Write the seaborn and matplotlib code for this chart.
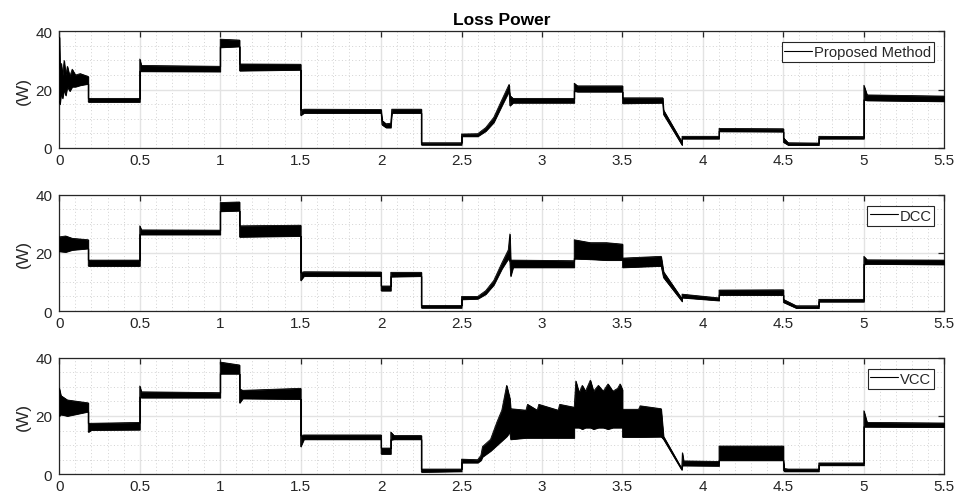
import numpy as np
import pandas as pd
import matplotlib
matplotlib.use("Agg")
import matplotlib.pyplot as plt
from matplotlib.lines import Line2D
from matplotlib.ticker import MultipleLocator
import seaborn as sns

sns.set_style("white")
plt.rcParams['font.family'] = ['Liberation Sans', 'DejaVu Sans']

title = "Loss Power"
ylabel = "(W)"
labels = ["Proposed Method", "DCC", "VCC"]
xticks = [0, 0.5, 1, 1.5, 2, 2.5, 3, 3.5, 4, 4.5, 5, 5.5]
yticks = [0, 20, 40]

# ---- Proposed Method: time knots, lower and upper envelope of the ripple (W)
t_pm = [0.000, 0.004, 0.012, 0.020, 0.030, 0.040, 0.050, 0.065, 0.080, 0.100, 0.130, 0.180,
        0.180, 0.500, 0.500, 0.510, 1.000,
        1.000, 1.120, 1.120, 1.500, 1.500, 1.520, 2.000, 2.005, 2.030, 2.060, 2.066, 2.250,
        2.250, 2.500, 2.500, 2.600, 2.650, 2.700, 2.750, 2.795, 2.800, 2.820, 3.200, 3.200,
        3.220, 3.500, 3.500, 3.750, 3.755, 3.870, 3.870, 4.100, 4.100, 4.500, 4.500, 4.530,
        4.720, 4.720, 5.000, 5.000, 5.020, 5.500]
lo_pm = [16.0, 15.0, 19.0, 17.0, 20.0, 18.0, 21.0, 19.5, 21.0, 21.0, 21.5, 22.0,
         15.8, 15.8, 26.3, 26.3, 26.2,
         34.5, 34.8, 26.5, 26.8, 11.2, 12.0, 12.0, 8.0, 7.0, 7.0, 12.0, 12.0,
         1.1, 1.1, 4.0, 4.0, 5.8, 8.8, 14.5, 19.5, 14.5, 15.5, 15.5, 19.5,
         19.3, 19.3, 15.3, 15.5, 11.5, 1.0, 3.2, 3.2, 5.7, 5.6, 2.0, 1.0,
         1.0, 3.2, 3.2, 16.5, 16.3, 16.0]
hi_pm = [38.0, 27.0, 29.0, 25.0, 30.0, 25.0, 28.0, 24.5, 27.0, 25.0, 25.5, 24.5,
         17.0, 17.0, 30.5, 28.3, 28.0,
         37.3, 37.0, 28.8, 28.7, 13.0, 13.3, 13.2, 9.5, 8.3, 8.5, 13.3, 13.3,
         1.8, 1.8, 4.8, 4.9, 7.0, 10.5, 16.5, 21.8, 18.0, 17.0, 17.0, 22.2,
         21.3, 21.3, 17.2, 17.2, 13.0, 2.0, 4.0, 4.0, 6.7, 6.6, 3.5, 1.8,
         1.7, 4.0, 3.9, 21.5, 18.2, 17.8]

# ---- DCC
t_dcc = [0.000, 0.040, 0.080, 0.180, 0.180, 0.500, 0.500, 0.510, 1.000, 1.000, 1.120, 1.120,
         1.500, 1.500, 1.520, 2.000, 2.000, 2.060, 2.060, 2.250, 2.250, 2.500, 2.500, 2.600,
         2.650, 2.700, 2.750, 2.790, 2.800, 2.805, 2.820, 3.200, 3.200, 3.300, 3.400, 3.500,
         3.500, 3.740, 3.755, 3.870, 3.870, 4.100, 4.100, 4.500, 4.500, 4.580, 4.720, 4.720,
         5.000, 5.000, 5.020, 5.500]
lo_dcc = [20.5, 20.3, 21.0, 21.5, 15.5, 15.5, 26.3, 26.3, 26.3, 34.3, 34.5, 25.5,
          25.8, 10.5, 12.0, 12.0, 7.0, 7.0, 11.8, 12.0, 1.1, 1.1, 4.0, 4.2,
          5.8, 9.0, 14.5, 18.0, 17.0, 12.0, 15.0, 15.0, 18.0, 17.8, 17.5, 17.5,
          15.0, 15.5, 11.5, 3.3, 4.6, 3.6, 5.5, 5.5, 3.0, 1.0, 1.0, 3.2,
          3.2, 16.0, 16.2, 16.0]
hi_dcc = [25.5, 25.8, 25.0, 24.5, 17.5, 17.5, 29.3, 27.9, 27.8, 37.3, 37.5, 29.3,
          29.5, 13.2, 13.5, 13.4, 8.6, 8.6, 13.3, 13.3, 1.9, 1.9, 5.0, 5.0,
          7.0, 10.5, 16.5, 21.0, 26.5, 17.5, 17.5, 17.3, 24.5, 23.5, 23.5, 23.0,
          18.2, 18.8, 13.5, 4.2, 5.8, 4.5, 7.2, 7.3, 4.0, 1.8, 1.8, 4.0,
          4.0, 18.8, 17.6, 17.5]

# ---- VCC
t_vcc = [0.000, 0.010, 0.050, 0.180, 0.180, 0.200, 0.500, 0.500, 0.510, 1.000, 1.000, 1.120,
         1.120, 1.140, 1.500, 1.500, 1.520, 2.000, 2.000, 2.060, 2.060, 2.080, 2.250, 2.250,
         2.500, 2.500, 2.600, 2.620, 2.630, 2.680, 2.720, 2.750, 2.780, 2.800, 2.805, 2.900,
         2.910, 2.970, 2.980, 3.100, 3.110, 3.200, 3.200, 3.210, 3.230, 3.250, 3.270, 3.300,
         3.320, 3.350, 3.380, 3.410, 3.440, 3.470, 3.485, 3.500, 3.500, 3.600, 3.610, 3.740,
         3.755, 3.868, 3.872, 3.880, 4.100, 4.100, 4.500, 4.500, 4.505, 4.530, 4.720, 4.720,
         5.000, 5.000, 5.020, 5.500]
lo_vcc = [20.0, 20.5, 20.0, 21.5, 14.5, 15.2, 15.3, 26.5, 26.3, 26.3, 34.5, 34.5,
          24.5, 26.0, 25.8, 9.5, 12.0, 12.0, 7.0, 7.0, 11.8, 12.0, 12.0, 0.8,
          1.0, 4.0, 4.0, 4.8, 6.0, 8.0, 10.0, 11.5, 13.0, 14.5, 12.0, 12.5,
          12.5, 12.5, 12.5, 12.5, 12.5, 12.5, 16.0, 16.0, 16.0, 15.5, 16.0, 16.0,
          15.5, 16.0, 16.0, 15.5, 16.0, 16.0, 16.0, 16.0, 12.8, 12.8, 12.8, 12.9,
          12.0, 1.5, 3.0, 3.0, 2.9, 4.8, 4.8, 1.5, 1.0, 1.0, 1.0, 3.1,
          3.1, 16.3, 16.3, 16.2]
hi_vcc = [29.5, 27.0, 25.5, 24.5, 17.5, 17.5, 17.8, 30.3, 28.3, 28.0, 38.5, 37.5,
          29.3, 28.8, 29.5, 13.3, 13.5, 13.5, 9.0, 9.0, 14.5, 13.3, 13.3, 1.8,
          1.8, 5.2, 5.0, 6.5, 9.5, 12.0, 18.0, 22.0, 30.5, 26.0, 22.5, 22.0,
          24.0, 22.0, 24.0, 22.0, 24.0, 23.0, 23.0, 32.0, 28.0, 30.5, 28.5, 32.3,
          28.5, 30.5, 28.5, 31.0, 28.5, 29.5, 31.0, 29.0, 22.3, 22.3, 23.5, 22.5,
          13.0, 2.0, 7.4, 4.6, 4.4, 9.7, 9.7, 4.6, 2.0, 1.8, 1.8, 3.9,
          3.9, 21.8, 17.8, 17.6]

panels = [(t_pm, lo_pm, hi_pm), (t_dcc, lo_dcc, hi_dcc), (t_vcc, lo_vcc, hi_vcc)]

W, H = 960, 502
fig = plt.figure(figsize=(W / 100, H / 100), dpi=100)
left, right = 59.3, 944.3
tops = [32.3, 195.7, 358.7]
bottoms = [149.0, 312.0, 475.3]

txt = '#262626'
for i, ((t, lo, hi), lab) in enumerate(zip(panels, labels)):
    ax = fig.add_axes([left / W, 1 - bottoms[i] / H, (right - left) / W, (bottoms[i] - tops[i]) / H])
    df = pd.DataFrame({'t': t, 'lo': lo, 'hi': hi})
    ax.fill_between(df['t'], df['lo'], df['hi'], color='black', linewidth=0.6, zorder=3)
    sns.lineplot(data=df, x='t', y='lo', ax=ax, color='black', linewidth=0.6,
                 estimator=None, sort=False, zorder=3)
    sns.lineplot(data=df, x='t', y='hi', ax=ax, color='black', linewidth=0.6,
                 estimator=None, sort=False, zorder=3)
    ax.set_xlim(0, 5.5)
    ax.set_ylim(0, 40)
    ax.set_xticks(xticks)
    ax.set_xticklabels([f"{v:g}" for v in xticks])
    ax.set_yticks(yticks)
    ax.xaxis.set_minor_locator(MultipleLocator(0.1))
    ax.yaxis.set_minor_locator(MultipleLocator(5))
    ax.grid(True, which='major', color='#e3e3e3', linewidth=1.0, zorder=0)
    ax.grid(True, which='minor', color='#d2d2d2', linestyle=(0, (1, 2.5)), linewidth=0.7, zorder=0)
    ax.set_axisbelow(True)
    ax.tick_params(which='major', direction='in', length=4.3, width=0.9, color='#262626',
                   top=True, right=True, labelsize=11, labelcolor=txt, pad=3.5)
    ax.tick_params(axis='y', which='major', pad=5)
    ax.tick_params(which='minor', length=0)
    for s in ax.spines.values():
        s.set_color('#262626')
        s.set_linewidth(0.9)
    ax.set_xlabel('')
    ax.set_ylabel(ylabel, fontsize=12.5, color=txt, labelpad=3)
    handle = Line2D([0], [0], color='black', linewidth=0.8)
    leg = ax.legend([handle], [lab], loc='upper right',
                    bbox_to_anchor=(1 - 10 / (right - left), 1 - 11 / (bottoms[i] - tops[i])),
                    borderaxespad=0, fancybox=False, framealpha=1, edgecolor='#262626',
                    fontsize=10.6, handlelength=1.9, handletextpad=0.12, borderpad=0.2)
    leg.get_frame().set_linewidth(0.8)
    leg.set_zorder(5)
    if i == 0:
        ax.set_title(title, fontsize=12.5, fontweight='bold', color='black', pad=5)

fig.savefig('out.png', dpi=100)
